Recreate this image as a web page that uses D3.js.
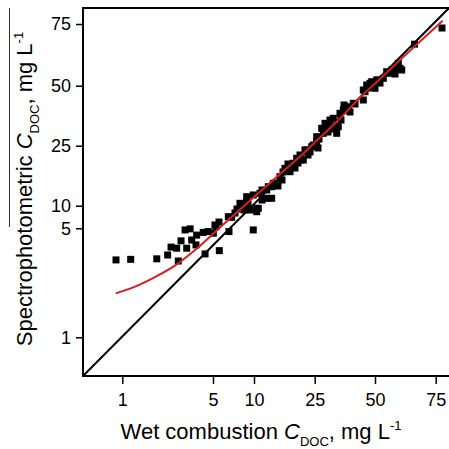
<!DOCTYPE html>
<html>
<head>
<meta charset="utf-8">
<script src="https://cdn.jsdelivr.net/npm/d3@7"></script>
<style>
  body { margin: 0; background: #fff; }
  svg { display: block; font-family: "Liberation Sans", Arial, sans-serif; }
</style>
</head>
<body>
<div id="chart"></div>
<script>
// Tick labels printed on both axes
const tickValues = [1, 5, 10, 25, 50, 75];

// Measured samples: wet combustion DOC (x) vs spectrophotometric DOC (y), mg/L
const wetDOC = [
    0.92, 1.37, 2.52, 3.00, 3.15, 3.40, 3.47, 3.59, 3.77, 3.99,
    3.84, 4.06, 4.28, 4.25, 4.57, 4.79, 5.04, 5.37, 4.65, 5.77,
    6.95, 7.28, 5.73, 9.91, 6.87, 8.70, 9.11, 9.51, 10.67, 5.24,
    8.29, 9.11, 9.91, 11.48, 13.14, 14.37, 13.14, 14.37, 15.19, 10.67,
    7.93, 7.68, 13.53, 16.42, 17.66, 18.9, 19.71, 20.55, 21.37, 22.6,
    24.26, 25.83, 11.06, 18.08, 14.77, 11.98, 16.92, 20.13, 15.93, 21.61,
    18.4, 22.18, 23.02, 24.65, 25.83, 26.37, 27.9, 29.27, 28.57, 31.34,
    32.71, 34.12, 33.42, 35.49, 36.86, 38.93, 41.0, 34.78, 29.98, 26.78,
    23.84, 30.93, 32.59, 45.15, 45.85, 46.56, 47.93, 50.0, 51.36, 53.42,
    55.48, 57.54, 58.94, 59.6, 60.3, 48.63, 50.7, 54.82, 56.88, 47.1,
    49.17, 45.15, 38.27, 41.71, 61.0, 66.27, 77.37, 20.87, 23.34, 25.12,
    30.51, 35.9, 39.63, 37.15, 52.06, 58.24, 11.98, 9.27, 8.78, 17.17
];
const specDOC = [
    3.84, 3.86, 3.88, 4.02, 4.31, 4.27, 3.80, 4.54, 4.94, 4.98,
    4.27, 4.57, 4.75, 4.39, 4.85, 4.88, 4.82, 5.35, 4.06, 4.18,
    4.88, 7.43, 6.39, 4.94, 7.57, 10.18, 11.0, 9.05, 9.42, 5.73,
    10.6, 12.25, 12.68, 13.1, 13.93, 14.75, 11.85, 11.85, 15.6, 8.67,
    9.27, 8.38, 14.75, 17.25, 19.35, 18.5, 20.6, 21.85, 22.68, 23.93,
    24.75, 26.67, 9.42, 18.93, 15.6, 13.93, 16.43, 19.43, 14.93, 21.43,
    20.43, 21.43, 23.93, 25.29, 28.75, 24.43, 32.25, 34.33, 30.17, 35.71,
    36.42, 30.17, 32.92, 38.5, 39.88, 41.25, 42.67, 32.92, 32.38, 27.79,
    23.43, 33.21, 31.96, 44.04, 47.5, 50.28, 50.97, 48.92, 52.31, 53.0,
    55.02, 55.67, 57.7, 59.08, 57.05, 51.62, 52.31, 55.67, 56.36, 49.04,
    49.88, 48.21, 39.88, 42.38, 56.36, 66.82, 73.38, 20.68, 22.68, 24.93,
    30.71, 35.71, 39.04, 41.96, 51.09, 54.74, 11.43, 10.43, 9.05, 18.43
];

// Fitted calibration curve (red)
const fitWet = [0.916, 1.56, 2.44, 3.32, 4.21, 5.24, 7.68, 10, 16.42, 21.37, 27.2, 35.49, 43.78, 52.06, 60.3, 68.53, 77.63];
const fitSpec = [2.61, 2.86, 3.21, 3.63, 4.20, 4.86, 8.16, 12.18, 17.93, 22.3, 28.42, 36.33, 45.08, 52.71, 60.41, 67.91, 76.03];

// 1:1 reference line end points
const lineEnds = [0.5, 80];

const width = 449, height = 449;
const plotLeft = 83, plotRight = 449, plotTop = 8, plotBottom = 376;

const svg = d3.select('#chart')
    .append('svg')
    .attr('width', width)
    .attr('height', height);

// the printed tick marks are not evenly spaced on a log scale, so the axes are piecewise
const x = d3.scaleLinear()
    .domain([0.5, 1, 5, 10, 25, 50, 75, 80])
    .range([plotLeft, 122.3, 213, 254, 314.7, 375, 435.7, plotRight]);
const y = d3.scaleLinear()
    .domain([0.5, 1, 5, 10, 25, 50, 75, 80])
    .range([plotBottom, 337.3, 228.3, 205.7, 145.7, 85.7, 24, plotTop]);

// Axes
const xAxis = svg.append('g')
    .attr('transform', `translate(0,${plotBottom})`)
    .call(d3.axisBottom(x).tickValues(tickValues).tickSize(8).tickPadding(9).tickFormat(d3.format('d')));
const yAxis = svg.append('g')
    .attr('transform', `translate(${plotLeft},0)`)
    .call(d3.axisLeft(y).tickValues(tickValues).tickSize(7).tickPadding(5).tickFormat(d3.format('d')));

[xAxis, yAxis].forEach(g => {
    g.select('.domain').remove();
    g.selectAll('.tick line').attr('stroke', '#000').attr('stroke-width', 1.5);
    g.selectAll('.tick text')
        .attr('fill', '#000')
        .style('font-family', '"Liberation Sans", Arial, sans-serif')
        .style('font-size', '18px');
});

// Frame
svg.append('rect')
    .attr('x', plotLeft)
    .attr('y', plotTop)
    .attr('width', plotRight - plotLeft + 1)
    .attr('height', plotBottom - plotTop)
    .attr('fill', 'none')
    .attr('stroke', '#000')
    .attr('stroke-width', 2);

// 1:1 line
svg.append('path')
    .datum(lineEnds)
    .attr('d', d3.line().x(d => x(d)).y(d => y(d)))
    .attr('fill', 'none')
    .attr('stroke', '#000')
    .attr('stroke-width', 2);

// Data points
const pts = wetDOC.map((w, i) => ({ w, s: specDOC[i] }));
svg.append('g').selectAll('rect')
    .data(pts)
    .enter()
    .append('rect')
    .attr('x', d => x(d.w) - 3.5)
    .attr('y', d => y(d.s) - 3.5)
    .attr('width', 7)
    .attr('height', 7)
    .attr('fill', '#000');

// Fit curve
const fit = fitWet.map((w, i) => [w, fitSpec[i]]);
svg.append('path')
    .datum(fit)
    .attr('d', d3.line().x(d => x(d[0])).y(d => y(d[1])).curve(d3.curveMonotoneX))
    .attr('fill', 'none')
    .attr('stroke', '#d81e1e')
    .attr('stroke-width', 2);

// X title
const xt = svg.append('text')
    .attr('x', 261)
    .attr('y', 439)
    .attr('text-anchor', 'middle')
    .attr('fill', '#000')
    .style('font-size', '22px');
xt.append('tspan').text('Wet combustion ');
xt.append('tspan').style('font-style', 'italic').text('C');
xt.append('tspan').attr('dy', 7).style('font-size', '13px').text('DOC');
xt.append('tspan').attr('dy', -7).text(', mg L');
xt.append('tspan').attr('dy', -9).style('font-size', '13px').text('-1');

// Y title
const yt = svg.append('text')
    .attr('transform', 'translate(32,189) rotate(-90)')
    .attr('text-anchor', 'middle')
    .attr('fill', '#000')
    .style('font-size', '22px');
yt.append('tspan').text('Spectrophotometric ');
yt.append('tspan').style('font-style', 'italic').text('C');
yt.append('tspan').attr('dy', 7).style('font-size', '13px').text('DOC');
yt.append('tspan').attr('dy', -7).text(', mg L');
yt.append('tspan').attr('dy', -9).style('font-size', '13px').text('-1');

// stray rule beside the y title, as in the source figure
svg.append('line')
    .attr('x1', 9.5).attr('x2', 9.5)
    .attr('y1', 8).attr('y2', 227)
    .attr('stroke', '#333')
    .attr('stroke-width', 1);
</script>
</body>
</html>
